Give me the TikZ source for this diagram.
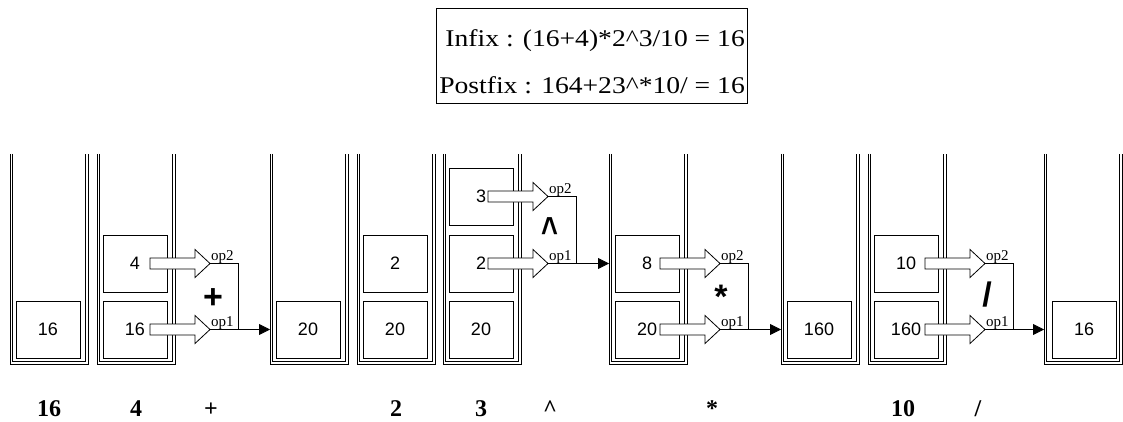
\documentclass[tikz,border=0pt]{standalone}
\usepackage{fontspec}
\setmainfont{Liberation Serif}
\newfontfamily\boxfont{Liberation Sans}
\newfontfamily\titlefont[FakeStretch=1.15]{Liberation Serif}
\usetikzlibrary{arrows.meta,calc}

\newcommand\stackU[2]{%
  \draw[wall] (#2,154) -- (#2,364) -- (#2+78,364) -- (#2+78,154);
  \draw[wall] (#2+2.5,154) -- (#2+2.5,361.5) -- (#2+75.5,361.5) -- (#2+75.5,154);
  \coordinate (#1) at (#2,0);}
\newcommand\blockarr[1]{%
  \draw[barrow] (#1) ++(0,-5.5) -- ++(45,0) -- ++(0,-8.5) -- ++(15,14) -- ++(-15,14) -- ++(0,-8.5) -- ++(-45,0) -- cycle;}

\begin{document}
\begin{tikzpicture}[x=1pt,y=-1pt,
  wall/.style={line width=0.8pt},
  val/.style={draw, line width=0.8pt, minimum width=64pt, minimum height=57pt, inner sep=0pt,
    font=\boxfont\fontsize{18}{18}\selectfont},
  barrow/.style={draw, fill=white, line width=0.8pt},
  link/.style={line width=0.8pt},
  res/.style={link, -{Triangle[length=11pt,width=11pt]}},
  oplab/.style={anchor=base west, inner sep=0pt, font=\fontsize{15}{15}\selectfont},
  opsym/.style={anchor=base, inner sep=0pt, font=\boxfont\bfseries\fontsize{34}{34}\selectfont},
  seq/.style={anchor=base, inner sep=0pt, font=\bfseries\fontsize{24}{24}\selectfont},
  ttl/.style={anchor=base east, inner sep=0pt, font=\titlefont\fontsize{24}{24}\selectfont}
]
\useasboundingbox (0,0) rectangle (1123,422);

% title
\node[draw, line width=0.8pt, minimum width=311pt, minimum height=95pt, inner sep=0pt] (title) at (591.5,55.5) {};
\node[ttl] (infix) at (745,47) {Infix : (16+4)*2\textasciicircum 3/10 = 16};
\node[ttl] (postfix) at (745,94) {Postfix : 164+23\textasciicircum *10/ = 16};

% stacks
\stackU{S1}{10}
\stackU{S2}{97}
\stackU{S3}{270}
\stackU{S4}{357}
\stackU{S5}{443}
\stackU{S6}{609}
\stackU{S7}{781}
\stackU{S8}{868}
\stackU{S9}{1044}

% values
\node[val] (s1a) at (48,329.5) {16};
\node[val] (s2a) at (135,329.5) {16};
\node[val] (s2b) at (135,263.5) {4};
\node[val] (s3a) at (308,329.5) {20};
\node[val] (s4a) at (395,329.5) {20};
\node[val] (s4b) at (395,263.5) {2};
\node[val] (s5a) at (481,329.5) {20};
\node[val] (s5b) at (481,263.5) {2};
\node[val] (s5c) at (481,196.5) {3};
\node[val] (s6a) at (647,329.5) {20};
\node[val] (s6b) at (647,263.5) {8};
\node[val] (s7a) at (819,329.5) {160};
\node[val] (s8a) at (906,329.5) {160};
\node[val] (s8b) at (906,263.5) {10};
\node[val] (s9a) at (1084,329.5) {16};

% block arrows: start points and tips
\coordinate (p2a) at ($(s2a.center)+(15,0)$);
\coordinate (p2b) at ($(s2b.center)+(15,0)$);
\coordinate (p5a) at ($(s5b.center)+(7,0)$);
\coordinate (p5b) at ($(s5c.center)+(7,0)$);
\coordinate (p6a) at ($(s6a.center)+(13,0)$);
\coordinate (p6b) at ($(s6b.center)+(13,0)$);
\coordinate (p8a) at ($(s8a.center)+(19,0)$);
\coordinate (p8b) at ($(s8b.center)+(19,0)$);
\foreach \p in {2,5,6,8}{
  \blockarr{p\p a}
  \blockarr{p\p b}
  \coordinate (t\p a) at ($(p\p a)+(60,0)$);
  \coordinate (t\p b) at ($(p\p b)+(60,0)$);
  \coordinate (v\p) at ($(t\p b)+(28,0)$);
  \draw[link] (t\p b) -- (v\p) -- (v\p |- t\p a);
  \node[oplab] at ($(t\p b)+(1,-3)$) {op2};
  \node[oplab] at ($(t\p a)+(1,-3)$) {op1};
}
\draw[res] (t2a) -- (t2a -| S3);
\draw[res] (t5a) -- (t5a -| S6);
\draw[res] (t6a) -- (t6a -| S7);
\draw[res] (t8a) -- (t8a -| S9);

% operators
\node[opsym] (plus) at (213,308) {+};
\node[opsym, xscale=0.85, yscale=1.15] (pow) at (550,244) {\textasciicircum};
\node[opsym] (mul) at (721,308) {*};
\node[opsym] (div) at (987,306) {/};

% postfix sequence
\node[seq] (q1) at (49,416) {16};
\node[seq] (q2) at (136,416) {4};
\node[seq] (q3) at (211,416) {+};
\node[seq] (q4) at (396,416) {2};
\node[seq] (q5) at (481,416) {3};
\node[seq] (q6) at (550,416) {\textasciicircum};
\node[seq] (q7) at (712,416) {*};
\node[seq] (q8) at (903,416) {10};
\node[seq] (q9) at (978,416) {/};
\end{tikzpicture}
\end{document}
